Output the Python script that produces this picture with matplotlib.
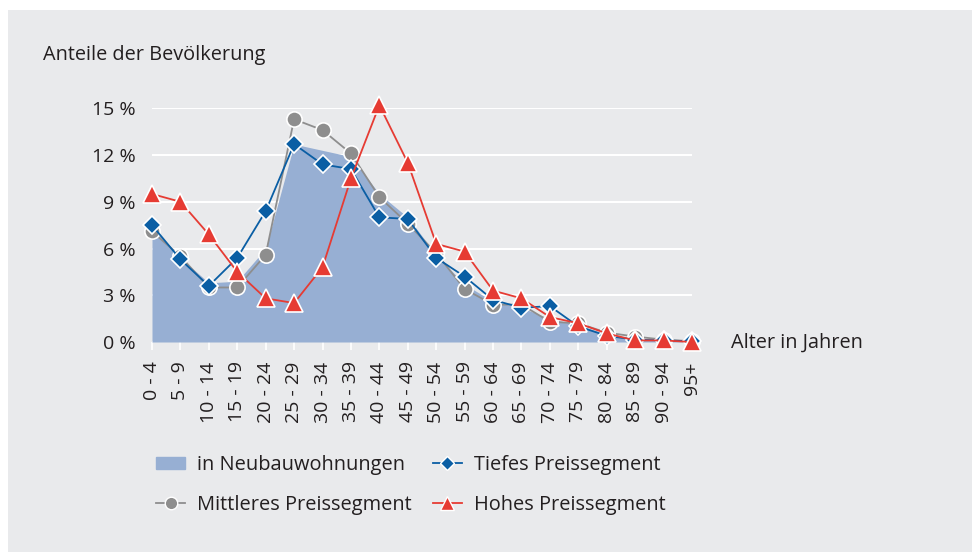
import matplotlib
matplotlib.use("Agg")
import matplotlib.pyplot as plt
import matplotlib.patches as mpatches
from matplotlib.lines import Line2D

plt.rcParams['font.family'] = ['Open Sans', 'DejaVu Sans']

# Altersklassen
age_groups = ["0 - 4", "5 - 9", "10 - 14", "15 - 19", "20 - 24", "25 - 29", "30 - 34",
              "35 - 39", "40 - 44", "45 - 49", "50 - 54", "55 - 59", "60 - 64", "65 - 69",
              "70 - 74", "75 - 79", "80 - 84", "85 - 89", "90 - 94", "95+"]

# Anteile in %
neubau = [7.4, 5.4, 3.8, 3.9, 6.0, 12.7, 12.3, 11.9, 9.5, 8.0,
          5.6, 3.7, 2.6, 2.2, 1.5, 1.1, 0.5, 0.2, 0.1, 0.05]
tiefes = [7.5, 5.3, 3.6, 5.4, 8.4, 12.7, 11.4, 11.1, 8.0, 7.9,
          5.4, 4.2, 2.7, 2.2, 2.3, 1.0, 0.4, 0.15, 0.1, 0.05]
mittleres = [7.1, 5.5, 3.5, 3.5, 5.6, 14.3, 13.6, 12.1, 9.3, 7.6,
             5.7, 3.4, 2.4, 2.4, 1.3, 1.2, 0.6, 0.35, 0.15, 0.05]
hohes = [9.5, 9.0, 6.9, 4.5, 2.8, 2.5, 4.8, 10.5, 15.2, 11.5,
         6.3, 5.8, 3.3, 2.8, 1.6, 1.2, 0.55, 0.1, 0.1, 0.0]
y_ticks = [0, 3, 6, 9, 12, 15]

BG = '#e9eaec'
AREA = '#97afd3'
BLUE = '#0a5ea4'
GRAY = '#8e8e8e'
RED = '#e63b33'
TXT = '#231f20'

fig = plt.figure(figsize=(9.72, 5.52), dpi=100)
fig.patch.set_facecolor('white')
fig.add_artist(mpatches.Rectangle((8 / 972, 0), 1, 1 - 10 / 552, transform=fig.transFigure,
                                  facecolor=BG, edgecolor='none', zorder=-10))

ax = fig.add_axes([152 / 972, 1 - 342 / 552, 540 / 972, (342 - 108.3) / 552])
ax.set_facecolor(BG)
ax.patch.set_alpha(0)
x = list(range(len(age_groups)))

ax.fill_between(x, neubau, 0, color=AREA, lw=0, zorder=2)
ax.plot(x, mittleres, color=GRAY, lw=1.3, marker='o', ms=11, mfc=GRAY, mec='white',
        mew=1.2, zorder=3, clip_on=False)
ax.plot(x, tiefes, color=BLUE, lw=1.3, marker='D', ms=9, mfc=BLUE, mec='white',
        mew=1.2, zorder=4, clip_on=False)
ax.plot(x, hohes, color=RED, lw=1.3, marker='^', ms=13, mfc=RED, mec='white',
        mew=1.2, zorder=5, clip_on=False)

ax.set_xlim(0, len(age_groups) - 1)
ax.set_ylim(0, 15)
ax.set_yticks(y_ticks)
ax.set_yticklabels([f"{v} %" for v in y_ticks], fontsize=14, color=TXT)
ax.yaxis.grid(True, color='white', lw=1.5, zorder=1)
ax.set_axisbelow(True)
ax.tick_params(axis='y', length=0, pad=12)
ax.set_xticks(x)
ax.set_xticklabels(age_groups, rotation=90, fontsize=14, color=TXT)
ax.tick_params(axis='x', length=6, color='white', width=1.2, pad=8)
for s in ax.spines.values():
    s.set_visible(False)

fig.text(43 / 972, 1 - 55 / 552, "Anteile der Bevölkerung", fontsize=14.3, color=TXT,
         va='center', ha='left')
fig.text(731 / 972, 1 - 343 / 552, "Alter in Jahren", fontsize=14.3, color=TXT,
         va='center', ha='left')

handles = [
    mpatches.Patch(color=AREA, label='in Neubauwohnungen'),
    Line2D([], [], color=GRAY, lw=1.3, marker='o', ms=9, mfc=GRAY, mec='white',
           label='Mittleres Preissegment'),
    Line2D([], [], color=BLUE, lw=1.3, marker='D', ms=7, mfc=BLUE, mec='white',
           label='Tiefes Preissegment'),
    Line2D([], [], color=RED, lw=1.3, marker='^', ms=10, mfc=RED, mec='white',
           label='Hohes Preissegment'),
]
fig.legend(handles=handles, loc='center left', bbox_to_anchor=(148 / 972, 1 - 485 / 552),
           ncol=2, frameon=False, fontsize=14.4, handlelength=1.45, handleheight=0.6,
           handletextpad=0.6, columnspacing=1.05, labelspacing=1.0, borderaxespad=0,
           labelcolor=TXT)

plt.savefig('out.png', dpi=100)
